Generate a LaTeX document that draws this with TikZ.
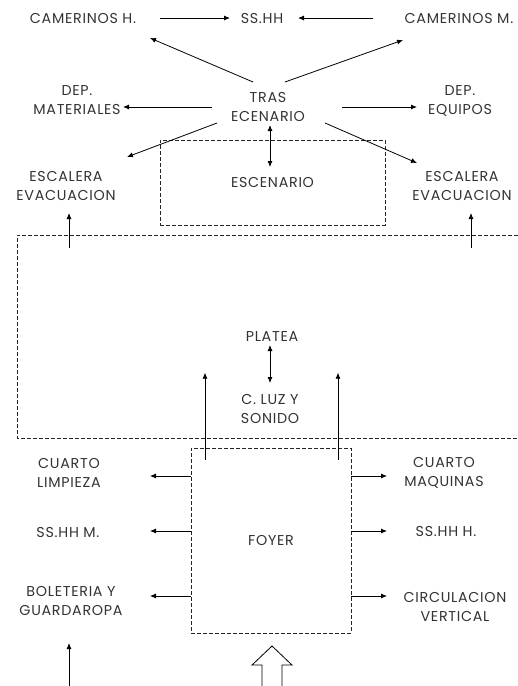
\documentclass[tikz,border=0pt]{standalone}
\usepackage{fontspec}
\setmainfont{Poppins}[LetterSpace=5]
\usetikzlibrary{arrows.meta,calc}
\tikzset{
  lbl/.style={text=black!80, font=\fontsize{14.3}{19}\selectfont, align=center, inner sep=0pt},
  arr/.style={draw=black, line width=0.8pt, -{Latex[length=6pt,width=5pt]}},
  darr/.style={draw=black, line width=0.8pt, {Latex[length=6pt,width=5pt]}-{Latex[length=6pt,width=5pt]}},
  dbox/.style={draw=black!85, line width=0.7pt, dash pattern=on 4pt off 2pt},
}
\begin{document}
\begin{tikzpicture}[x=1pt,y=-1pt]
\useasboundingbox (0,0) rectangle (518,686);
% nodes
\node[lbl] (camh) at (83,18) {CAMERINOS H.};
\node[lbl] (sshh) at (262,18) {SS.HH};
\node[lbl] (camm) at (459,18) {CAMERINOS M.};
\node[lbl] (depmat) at (77,100) {DEP.\\MATERIALES};
\node[lbl] (tras) at (268,107) {TRAS\\ECENARIO};
\node[lbl] (depeq) at (460,101) {DEP.\\EQUIPOS};
\node[lbl] (escl) at (66,186) {ESCALERA\\EVACUACION};
\node[lbl] (escr) at (462,186) {ESCALERA\\EVACUACION};
\node[lbl, dbox, minimum width=225pt, minimum height=85pt] (esc) at (272.5,182.5) {ESCENARIO};
\node[lbl] (platea) at (272,337) {PLATEA};
\node[lbl] (cluz) at (270,409) {C. LUZ Y\\SONIDO};
\node[lbl, dbox, minimum width=160pt, minimum height=185pt] (foyer) at (271,540.5) {FOYER};
\node[lbl] (clim) at (69,473) {CUARTO\\LIMPIEZA};
\node[lbl] (sshm) at (68,532) {SS.HH M.};
\node[lbl] (bol) at (71,601) {BOLETERIA Y\\GUARDAROPA};
\node[lbl] (cmaq) at (444,473) {CUARTO\\MAQUINAS};
\node[lbl] (sshhh) at (446,531) {SS.HH H.};
\node[lbl] (circ) at (455,607) {CIRCULACION\\VERTICAL};
% platea area (open to the right)
\draw[dbox] (518,235) -- (17,235) -- (17,438) -- (518,438);
% top arrows
\draw[arr] ($(camh)+(77,0)$) -- ($(sshh)+(-32,0)$);
\draw[arr] ($(camm)+(-86,0)$) -- ($(sshh)+(36,0)$);
\draw[arr] ($(tras)+(-15,-25)$) -- ($(camh)+(67,20)$);
\draw[arr] ($(tras)+(17,-25)$) -- ($(camm)+(-56,22)$);
\draw[arr] ($(tras)+(-56,0)$) -- ($(depmat)+(46,7)$);
\draw[arr] ($(tras)+(74,0)$) -- ($(depeq)+(-43,6)$);
\draw[arr] ($(tras)+(-51,16)$) -- ($(escl)+(61,-29)$);
\draw[arr] ($(tras)+(57,16)$) -- ($(escr)+(-45,-23)$);
\draw[darr] ($(tras)+(2,18)$) -- ($(esc)+(-2.5,-15.5)$);
\draw[arr] ($(escl)+(3,62)$) -- ($(escl)+(3,27)$);
\draw[arr] ($(escr)+(9,62)$) -- ($(escr)+(9,27)$);
% platea
\draw[darr] ($(platea)+(-2,8)$) -- ($(cluz)+(0,-26)$);
\draw[arr] ($(foyer.north)+(-66,12)$) -- ($(foyer.north)+(-66,-75)$);
\draw[arr] ($(foyer.north)+(67,12)$) -- ($(foyer.north)+(67,-75)$);
% foyer side arrows
\draw[arr] ($(foyer.west)+(0,-64.5)$) -- ($(clim)+(81,3)$);
\draw[arr] ($(foyer.west)+(0,-9.5)$) -- ($(sshm)+(82,-1)$);
\draw[arr] ($(foyer.west)+(0,55.5)$) -- ($(bol)+(79,-5)$);
\draw[arr] ($(foyer.east)+(0,-64.5)$) -- ($(cmaq)+(-57,3)$);
\draw[arr] ($(foyer.east)+(0,-9.5)$) -- ($(sshhh)+(-59,0)$);
\draw[arr] ($(foyer.east)+(0,55.5)$) -- ($(circ)+(-68,-11)$);
% entrance arrows
\draw[arr] ($(bol)+(-2,86)$) -- ($(bol)+(-2,42)$);
\draw[line width=0.8pt, fill=white] (262,686) -- (262,665) -- (252,665) -- (272,646) -- (292,665) -- (282,665) -- (282,686);
\end{tikzpicture}
\end{document}
